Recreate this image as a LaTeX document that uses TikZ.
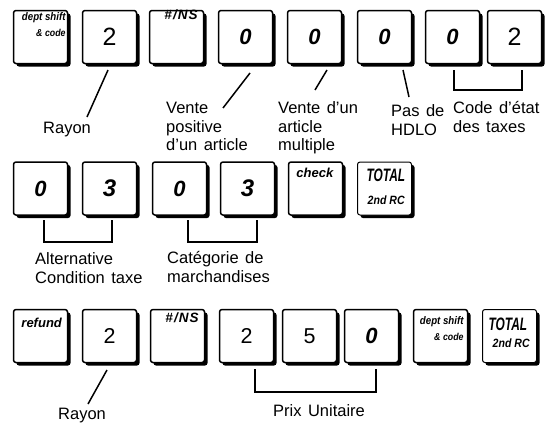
\documentclass[tikz,border=0pt]{standalone}
\usepackage{fontspec}
\setmainfont[WordSpace=1.4]{Liberation Sans}
\newfontfamily\kfont{Liberation Sans}
\newfontfamily\kspc[LetterSpace=8]{Liberation Sans}
\newfontfamily\knar[FakeStretch=0.88]{Liberation Sans}
\newfontfamily\ktot[FakeStretch=0.66]{Liberation Sans}
\usetikzlibrary{shadows}
\begin{document}
\begin{tikzpicture}[x=1pt,y=-1pt,
  key/.style={draw, line width=1.5pt, rounded corners=2.5pt, fill=white,
    minimum width=54pt, minimum height=53pt, inner sep=0pt,
    drop shadow={shadow xshift=3pt, shadow yshift=-3pt, opacity=1, fill=black}},
  thinkey/.style={key, line width=1pt},
  dgbig/.style={font=\fontsize{25}{25}\selectfont},
  dgsm/.style={font=\fontsize{21.5}{21.5}\selectfont},
  dgi/.style={font=\fontsize{22}{22}\selectfont\bfseries\itshape},
  dgi3/.style={font=\fontsize{24}{24}\selectfont\bfseries\itshape},
  kt/.style={inner sep=0pt, font=\kfont\fontsize{13}{13}\selectfont\bfseries\itshape},
  ktns/.style={inner sep=0pt, font=\kspc\fontsize{13.5}{13.5}\selectfont\bfseries\itshape},
  ktn/.style={inner sep=0pt, font=\knar\fontsize{11}{15.7}\selectfont\bfseries\itshape, align=right, anchor=north east},
  ktt/.style={inner sep=0pt, font=\ktot\fontsize{18}{18}\selectfont\bfseries\itshape, anchor=base west},
  ktr/.style={inner sep=0pt, font=\knar\fontsize{12}{12}\selectfont\bfseries\itshape, anchor=base west},
  lbl/.style={inner sep=0pt, anchor=north west, align=left, font=\fontsize{16.5}{18.5}\selectfont},
  lead/.style={line width=1.5pt},
  brk/.style={line width=1.3pt}
]
\useasboundingbox (0,0) rectangle (549,423);

% ---------- Row 1 ----------
\node[key] (k1) at (40.5,37) {};
\node[key, dgbig] (k2) at (109.5,37) {2};
\node[key] (k3) at (176.5,37) {};
\node[key, dgi] (k4) at (245.5,37) {0};
\node[key, dgi] (k5) at (314.5,37) {0};
\node[key, dgi] (k6) at (384.5,37) {0};
\node[key, dgi] (k7) at (452.5,37) {0};
\node[key, dgbig] (k8) at (514.5,37) {2};

\node[ktn] (t1) at ([shift={(-2.5,2.5)}]k1.north east) {dept shift\\\fontsize{10}{15.7}\selectfont\& code};
\node[ktns, anchor=base west] (t3) at ([shift={(15.5,10.2)}]k3.north west) {\#/NS};

\node[lbl] (l1) at (43,120.5) {\strut Rayon};
\node[lbl] (l2) at (166,100.5) {\strut Vente\\positive\\d’un article};
\node[lbl] (l3) at (278,100.5) {\strut Vente d’un\\article\\multiple};
\node[lbl] (l4) at (391,103.5) {\strut Pas de\\HDLO};
\node[lbl] (l5) at (453,100.5) {\strut Code d’état\\des taxes};

\coordinate (e1) at (87,117);
\coordinate (e2) at (223,108);
\coordinate (e3) at (315,90);
\coordinate (e4) at (409,97);
\draw[lead] ([shift={(-1.5,33)}]k2.center) -- (e1);
\draw[lead] ([shift={(4.5,36)}]k4.center) -- (e2);
\draw[lead] ([shift={(12.5,33)}]k5.center) -- (e3);
\draw[lead] ([shift={(18.5,33)}]k6.center) -- (e4);
\draw[brk] ([shift={(1.5,33)}]k7.center) -- ++(0,20) -| ([shift={(7.5,33)}]k8.center);

% ---------- Row 2 ----------
\node[key, dgi] (m1) at (40.5,188.5) {0};
\node[key, dgi3] (m2) at (109.5,188.5) {3};
\node[key, dgi] (m3) at (179.5,188.5) {0};
\node[key, dgi3] (m4) at (247.5,188.5) {3};
\node[key] (m5) at (315.5,188.5) {};
\node[thinkey] (m6) at (384.5,188.5) {};

\node[kt, anchor=base west] (t5) at ([shift={(8.5,16)}]m5.north west) {check};
\node[ktt] (t6) at ([shift={(9.5,20)}]m6.north west) {TOTAL};
\node[ktr] (t6b) at ([shift={(10.5,43)}]m6.north west) {2nd RC};

\node[lbl] (l6) at (35,251.5) {\strut Alternative\\Condition taxe};
\node[lbl] (l7) at (167,250.5) {\strut Catégorie de\\marchandises};

\draw[brk] ([shift={(3.5,31.5)}]m1.center) -- ++(0,22) -| ([shift={(2.5,31.5)}]m2.center);
\draw[brk] ([shift={(8.5,31.5)}]m3.center) -- ++(0,22) -| ([shift={(9.5,31.5)}]m4.center);

% ---------- Row 3 ----------
\node[key] (n1) at (40.5,336) {};
\node[key, dgsm] (n2) at (109.5,336) {2};
\node[key] (n3) at (177.5,336) {};
\node[key, dgsm] (n4) at (246.5,336) {2};
\node[key, dgsm] (n5) at (309.5,336) {5};
\node[key, dgi] (n6) at (371.5,336) {0};
\node[key] (n7) at (440.5,336) {};
\node[thinkey] (n8) at (509.5,336) {};

\node[kt, anchor=base west] (t7) at ([shift={(8.5,18.5)}]n1.north west) {refund};
\node[ktns, anchor=base west] (t8) at ([shift={(15.5,13.5)}]n3.north west) {\#/NS};
\node[ktn] (t9) at ([shift={(-4.5,7.5)}]n7.north east) {dept shift\\\fontsize{10}{16.5}\selectfont\& code};
\node[ktt] (t10) at ([shift={(6.5,21.5)}]n8.north west) {TOTAL};
\node[ktr] (t10b) at ([shift={(10.5,38.5)}]n8.north west) {2nd RC};

\node[lbl] (l8) at (58,406) {\strut Rayon};
\node[lbl] (l9) at (273,403.8) {\strut Prix Unitaire};

\coordinate (e5) at (88,404);
\draw[lead] ([shift={(-2.5,34)}]n2.center) -- (e5);
\draw[brk] ([shift={(8.5,33)}]n4.center) -- ++(0,23) -| ([shift={(4.5,33)}]n6.center);
\end{tikzpicture}
\end{document}
